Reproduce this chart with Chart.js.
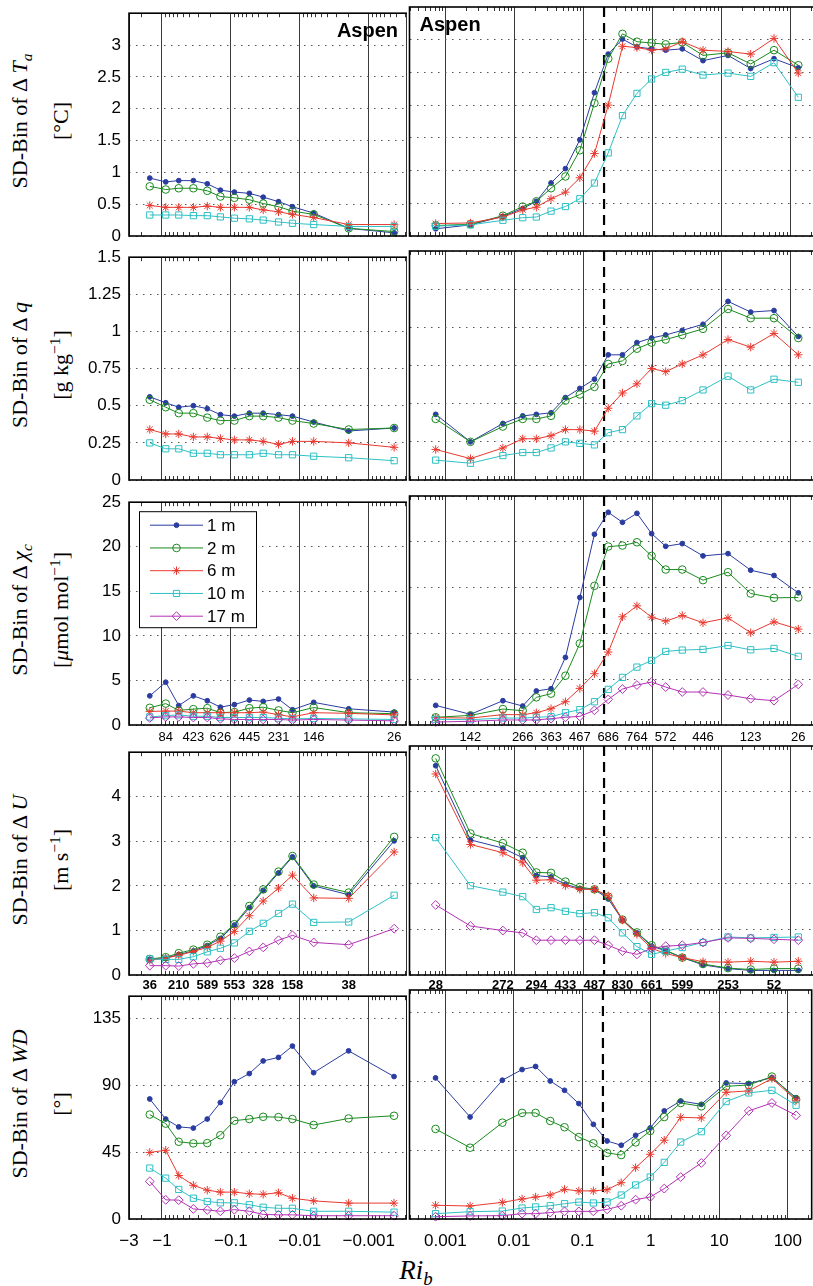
<!DOCTYPE html>
<html>
<head>
<meta charset="utf-8">
<script src="https://cdn.jsdelivr.net/npm/chart.js@4.4.0/dist/chart.umd.min.js"></script>
<style>
body { margin: 0; background: #fff; width: 813px; height: 1286px; overflow: hidden; position: relative; }
canvas { position: absolute; }
.yl { position: absolute; transform: translate(-50%, -50%) rotate(-90deg); white-space: nowrap;
      font-family: 'Liberation Serif', 'DejaVu Serif', serif; font-size: 22px; line-height: 1; color: #000; }
.yl sub, .yl sup { font-size: 70%; line-height: 0; }
#xl { position: absolute; left: 416px; top: 1270px; transform: translate(-50%, -50%);
      font-family: 'Liberation Serif', serif; font-size: 27px; line-height: 1; }
#xl sub { font-size: 70%; line-height: 0; }
</style>
</head>
<body>
<div class="yl" style="left:20px;top:121px">SD-Bin of Δ <i>T<sub>a</sub></i></div>
<div class="yl" style="left:61px;top:121px">[°C]</div>
<div class="yl" style="left:20px;top:365px">SD-Bin of Δ <i>q</i></div>
<div class="yl" style="left:61px;top:365px">[g kg<sup>−1</sup>]</div>
<div class="yl" style="left:20px;top:610px">SD-Bin of Δ <i>χ<sub>c</sub></i></div>
<div class="yl" style="left:61px;top:610px">[<i>μ</i>mol mol<sup>−1</sup>]</div>
<div class="yl" style="left:20px;top:860px">SD-Bin of Δ <i>U</i></div>
<div class="yl" style="left:61px;top:860px">[m s<sup>−1</sup>]</div>
<div class="yl" style="left:20px;top:1104px">SD-Bin of Δ <i>WD</i></div>
<div class="yl" style="left:61px;top:1104px">[°]</div>
<div id="xl"><i>Ri<sub>b</sub></i></div>
<script>
// bin centres (bulk Richardson number)
const riNeg = [-1.5, -0.88, -0.57, -0.35, -0.22, -0.142, -0.089, -0.054, -0.034, -0.0204, -0.0128, -0.0063, -0.00196, -0.00043];
const riPos = [0.00072, 0.0023, 0.0068, 0.0132, 0.0208, 0.034, 0.055, 0.089, 0.145, 0.23, 0.37, 0.6, 0.98, 1.57, 2.73, 5.46, 12.6, 26.9, 58.6, 132];

// samples per bin
const countsNeg = [36, 84, 210, 423, 589, 626, 553, 445, 328, 231, 158, 146, 38, 26];
const countsPos = [28, 142, 272, 266, 294, 363, 433, 467, 487, 686, 830, 764, 661, 572, 599, 446, 253, 123, 52, 26];

const heightLabels = ['1 m', '2 m', '6 m', '10 m', '17 m'];
const criticalRi = 0.2;

const xTicksNeg = [-3, -1, -0.1, -0.01, -0.001];
const xTicksPos = [0.001, 0.01, 0.1, 1, 10, 100];
const xRangeNeg = [-3, -0.00028];
const xRangePos = [0.0003, 223];

const yTicksTa = [0, 0.5, 1, 1.5, 2, 2.5, 3];
const yTicksQ = [0, 0.25, 0.5, 0.75, 1, 1.25, 1.5];
const yTicksC = [0, 5, 10, 15, 20, 25];
const yTicksU = [0, 1, 2, 3, 4];
const yTicksWD = [0, 45, 90, 135];

// SD-Bin of delta Ta [degC]
const ta1mNeg = [0.91, 0.85, 0.87, 0.87, 0.82, 0.72, 0.69, 0.67, 0.61, 0.54, 0.46, 0.36, 0.12, 0.05];
const ta2mNeg = [0.78, 0.73, 0.75, 0.75, 0.71, 0.62, 0.60, 0.57, 0.51, 0.46, 0.39, 0.34, 0.12, 0.07];
const ta6mNeg = [0.48, 0.45, 0.45, 0.45, 0.47, 0.45, 0.45, 0.45, 0.41, 0.38, 0.34, 0.29, 0.18, 0.18];
const ta10mNeg = [0.33, 0.33, 0.33, 0.32, 0.32, 0.30, 0.28, 0.27, 0.25, 0.22, 0.20, 0.18, 0.15, 0.15];
const ta1mPos = [0.11, 0.17, 0.30, 0.42, 0.53, 0.81, 1.03, 1.47, 2.19, 2.78, 3.01, 2.89, 2.86, 2.84, 2.86, 2.68, 2.76, 2.56, 2.71, 2.57];
const ta2mPos = [0.16, 0.18, 0.31, 0.45, 0.53, 0.73, 0.91, 1.31, 2.03, 2.71, 3.09, 2.97, 2.95, 2.93, 2.96, 2.76, 2.80, 2.63, 2.84, 2.61];
const ta6mPos = [0.19, 0.20, 0.29, 0.40, 0.44, 0.57, 0.67, 0.89, 1.26, 2.00, 2.90, 2.88, 2.84, 2.86, 2.97, 2.84, 2.82, 2.78, 3.02, 2.49];
const ta10mPos = [0.15, 0.17, 0.24, 0.28, 0.29, 0.38, 0.45, 0.57, 0.81, 1.27, 1.84, 2.18, 2.40, 2.50, 2.55, 2.46, 2.49, 2.44, 2.65, 2.12];

// SD-Bin of delta q [g/kg]
const q1mNeg = [0.56, 0.52, 0.49, 0.50, 0.48, 0.44, 0.43, 0.45, 0.45, 0.44, 0.43, 0.39, 0.33, 0.35];
const q2mNeg = [0.54, 0.49, 0.45, 0.45, 0.42, 0.40, 0.40, 0.43, 0.43, 0.42, 0.40, 0.38, 0.34, 0.35];
const q6mNeg = [0.34, 0.31, 0.31, 0.29, 0.29, 0.28, 0.27, 0.27, 0.26, 0.24, 0.26, 0.26, 0.25, 0.22];
const q10mNeg = [0.25, 0.21, 0.21, 0.18, 0.18, 0.17, 0.17, 0.17, 0.18, 0.17, 0.17, 0.16, 0.15, 0.13];
const q1mPos = [0.43, 0.25, 0.37, 0.42, 0.43, 0.44, 0.54, 0.60, 0.66, 0.82, 0.82, 0.90, 0.93, 0.95, 0.98, 1.02, 1.17, 1.10, 1.11, 0.94];
const q2mPos = [0.40, 0.25, 0.35, 0.40, 0.40, 0.42, 0.52, 0.56, 0.61, 0.76, 0.78, 0.86, 0.90, 0.92, 0.95, 0.99, 1.12, 1.06, 1.06, 0.93];
const q6mPos = [0.20, 0.14, 0.21, 0.27, 0.27, 0.29, 0.33, 0.33, 0.32, 0.47, 0.57, 0.63, 0.73, 0.71, 0.76, 0.82, 0.92, 0.87, 0.96, 0.82];
const q10mPos = [0.13, 0.11, 0.16, 0.18, 0.18, 0.21, 0.25, 0.24, 0.23, 0.31, 0.33, 0.42, 0.50, 0.49, 0.52, 0.59, 0.68, 0.59, 0.66, 0.64];

// SD-Bin of delta chi_c [umol/mol]
const c1mNeg = [3.27, 4.80, 2.18, 3.27, 2.72, 2.00, 2.29, 2.80, 2.65, 2.91, 1.71, 2.54, 1.82, 1.45];
const c2mNeg = [1.93, 2.40, 1.64, 1.78, 1.89, 1.38, 1.45, 1.89, 2.00, 1.64, 1.38, 1.96, 1.38, 1.27];
const c6mNeg = [1.53, 1.56, 1.56, 1.38, 1.38, 1.38, 1.38, 1.38, 1.45, 1.16, 0.91, 1.38, 1.31, 1.13];
const c10mNeg = [0.90, 1.05, 1.13, 0.98, 0.98, 0.84, 0.84, 0.84, 0.84, 0.76, 0.69, 0.73, 0.69, 0.62];
const c17mNeg = [0.80, 0.91, 0.91, 0.84, 0.84, 0.69, 0.62, 0.62, 0.62, 0.62, 0.55, 0.62, 0.55, 0.47];
const c1mPos = [2.14, 1.16, 2.65, 2.07, 3.71, 3.96, 7.38, 13.92, 20.82, 23.22, 22.13, 23.11, 20.89, 19.51, 19.80, 18.46, 18.71, 16.90, 16.32, 14.43];
const c2mPos = [0.84, 1.05, 1.74, 1.56, 3.02, 3.42, 5.38, 8.90, 15.19, 19.48, 19.59, 19.95, 18.46, 16.97, 16.97, 15.81, 16.68, 14.35, 13.88, 13.92];
const c6mPos = [0.80, 0.76, 1.13, 1.13, 1.34, 1.78, 2.54, 4.00, 5.60, 7.96, 11.81, 13.01, 11.77, 11.34, 11.96, 11.16, 11.70, 10.07, 11.26, 10.47];
const c10mPos = [0.62, 0.58, 0.76, 0.76, 0.84, 0.91, 1.34, 1.67, 2.54, 3.89, 5.20, 6.32, 7.05, 8.03, 8.18, 8.25, 8.68, 8.21, 8.36, 7.49];
const c17mPos = [0.33, 0.40, 0.55, 0.55, 0.55, 0.69, 0.84, 0.94, 1.60, 2.80, 3.92, 4.36, 4.69, 4.14, 3.60, 3.60, 3.27, 2.87, 2.65, 4.43];

// SD-Bin of delta U [m/s]
const u1mNeg = [0.35, 0.38, 0.46, 0.54, 0.66, 0.82, 1.12, 1.51, 1.90, 2.29, 2.65, 2.00, 1.80, 3.01];
const u2mNeg = [0.36, 0.40, 0.49, 0.57, 0.68, 0.86, 1.14, 1.55, 1.92, 2.32, 2.67, 2.03, 1.85, 3.10];
const u6mNeg = [0.33, 0.38, 0.44, 0.53, 0.62, 0.76, 0.98, 1.33, 1.66, 1.95, 2.24, 1.73, 1.72, 2.76];
const u10mNeg = [0.36, 0.35, 0.35, 0.41, 0.52, 0.60, 0.72, 0.98, 1.16, 1.38, 1.59, 1.18, 1.19, 1.79];
const u17mNeg = [0.21, 0.21, 0.20, 0.25, 0.27, 0.33, 0.38, 0.53, 0.62, 0.78, 0.89, 0.73, 0.68, 1.04];
const u1mPos = [4.57, 2.95, 2.77, 2.56, 2.17, 2.14, 1.98, 1.89, 1.87, 1.66, 1.20, 0.92, 0.63, 0.53, 0.38, 0.22, 0.14, 0.10, 0.10, 0.10];
const u2mPos = [4.73, 3.09, 2.88, 2.67, 2.24, 2.23, 2.04, 1.92, 1.87, 1.71, 1.21, 0.93, 0.65, 0.54, 0.38, 0.24, 0.15, 0.12, 0.14, 0.14];
const u6mPos = [4.39, 2.85, 2.67, 2.45, 2.07, 2.08, 1.95, 1.87, 1.87, 1.73, 1.20, 0.89, 0.58, 0.47, 0.38, 0.29, 0.28, 0.30, 0.28, 0.30];
const u10mPos = [3.00, 1.95, 1.81, 1.71, 1.43, 1.47, 1.39, 1.34, 1.36, 1.25, 0.92, 0.62, 0.45, 0.52, 0.60, 0.71, 0.83, 0.81, 0.82, 0.83];
const u17mPos = [1.53, 1.07, 0.97, 0.92, 0.76, 0.76, 0.76, 0.76, 0.76, 0.65, 0.52, 0.45, 0.58, 0.63, 0.65, 0.71, 0.81, 0.80, 0.78, 0.76];

// SD-Bin of delta WD [deg]
const wd1mNeg = [80.8, 67.3, 62.0, 61.2, 67.3, 78.4, 92.4, 97.9, 106.4, 108.8, 116.4, 98.5, 113.2, 95.9];
const wd2mNeg = [70.3, 64.2, 52.0, 50.9, 51.1, 56.4, 66.2, 67.3, 68.8, 68.6, 67.3, 63.3, 67.7, 69.5];
const wd6mNeg = [44.8, 46.3, 29.3, 22.7, 19.4, 18.1, 18.1, 17.0, 16.6, 17.7, 14.0, 12.2, 10.7, 10.7];
const wd10mNeg = [34.3, 27.5, 19.9, 14.0, 11.8, 10.9, 10.9, 9.6, 7.9, 7.2, 7.2, 5.2, 5.2, 4.6];
const wd17mNeg = [25.3, 12.9, 12.7, 6.8, 6.1, 5.2, 6.3, 5.2, 3.1, 2.8, 2.8, 2.2, 2.2, 2.2];
const wd1mPos = [92.4, 66.8, 90.9, 97.9, 99.9, 90.4, 84.3, 75.6, 62.0, 51.1, 48.3, 54.8, 59.6, 70.8, 77.3, 75.1, 89.1, 88.7, 92.6, 79.5];
const wd2mPos = [59.0, 46.7, 63.1, 69.5, 69.5, 64.2, 60.1, 53.7, 49.6, 43.3, 41.9, 50.2, 57.7, 66.8, 76.0, 73.8, 86.9, 87.8, 93.3, 78.4];
const wd6mPos = [9.0, 8.5, 10.9, 13.1, 14.4, 15.7, 19.4, 18.4, 18.4, 19.2, 23.8, 33.6, 42.4, 51.6, 66.6, 66.2, 83.0, 83.9, 92.0, 77.8];
const wd10mPos = [3.5, 4.8, 5.2, 7.2, 7.9, 8.7, 10.0, 11.1, 10.5, 11.1, 15.7, 22.3, 27.5, 37.1, 50.4, 57.2, 76.9, 82.6, 84.3, 74.5];
const wd17mPos = [1.5, 2.0, 2.2, 3.5, 3.5, 4.2, 5.0, 5.0, 5.0, 6.3, 8.7, 12.7, 14.4, 19.9, 27.5, 36.7, 54.8, 70.8, 76.0, 67.9];

const rows = [
  { yMax: 3.5, yTicks: yTicksTa, neg: [ta1mNeg, ta2mNeg, ta6mNeg, ta10mNeg], pos: [ta1mPos, ta2mPos, ta6mPos, ta10mPos] },
  { yMax: 1.5, yTicks: yTicksQ, neg: [q1mNeg, q2mNeg, q6mNeg, q10mNeg], pos: [q1mPos, q2mPos, q6mPos, q10mPos] },
  { yMax: 25, yTicks: yTicksC, neg: [c1mNeg, c2mNeg, c6mNeg, c10mNeg, c17mNeg], pos: [c1mPos, c2mPos, c6mPos, c10mPos, c17mPos] },
  { yMax: 5, yTicks: yTicksU, neg: [u1mNeg, u2mNeg, u6mNeg, u10mNeg, u17mNeg], pos: [u1mPos, u2mPos, u6mPos, u10mPos, u17mPos] },
  { yMax: 150, yTicks: yTicksWD, neg: [wd1mNeg, wd2mNeg, wd6mNeg, wd10mNeg, wd17mNeg], pos: [wd1mPos, wd2mPos, wd6mPos, wd10mPos, wd17mPos] }
];

// marker styles, same order as heightLabels
const styles = [
  { color: '#2b3ca0', pointStyle: 'circle', radius: 2.4, fill: true },
  { color: '#1a8a1e', pointStyle: 'circle', radius: 3.8, fill: false },
  { color: '#e8392f', pointStyle: 'star', radius: 4.2, fill: false },
  { color: '#2ec0c4', pointStyle: 'rect', radius: 4.4, fill: false },
  { color: '#b232b4', pointStyle: 'rectRot', radius: 4.4, fill: false }
];

const SANS = "'Liberation Sans', Arial, Helvetica, sans-serif";
const PLOT_H = 229;
const PAD_TOP = 12;
const rowTops = [7, 251, 496, 746, 990];

function drawMarker(ctx, s, x, y) {
  ctx.save();
  ctx.strokeStyle = s.color;
  ctx.fillStyle = s.fill ? s.color : 'rgba(0,0,0,0)';
  ctx.lineWidth = 1;
  Chart.helpers.drawPoint(ctx, { pointStyle: s.pointStyle, radius: s.radius, rotation: 0, borderWidth: 1 }, x, y);
  ctx.restore();
}

const panelDecor = {
  id: 'panelDecor',
  beforeDatasetsDraw(chart, args, o) {
    const { ctx, chartArea: a } = chart;
    const x = chart.scales.x;
    ctx.save();
    // minor ticks on log axis, pointing inward
    ctx.strokeStyle = '#000';
    ctx.lineWidth = 0.8;
    for (let e = -4; e <= 2; e++) {
      for (let k = 2; k <= 9; k++) {
        const v = k * Math.pow(10, e);
        if (v <= x.min || v >= x.max) continue;
        const px = Math.round(x.getPixelForValue(v)) + 0.5;
        ctx.beginPath();
        ctx.moveTo(px, a.bottom); ctx.lineTo(px, a.bottom - 4);
        ctx.moveTo(px, a.top); ctx.lineTo(px, a.top + 4);
        ctx.stroke();
      }
    }
    if (!o.neg) {
      const px = x.getPixelForValue(criticalRi);
      ctx.setLineDash([10, 6]);
      ctx.lineWidth = 2.2;
      ctx.beginPath();
      ctx.moveTo(px, a.top); ctx.lineTo(px, a.bottom);
      ctx.stroke();
    }
    ctx.restore();
  },
  afterDraw(chart, args, o) {
    const { ctx, chartArea: a } = chart;
    const x = chart.scales.x;
    ctx.save();
    ctx.strokeStyle = '#000';
    ctx.lineWidth = 1.6;
    ctx.strokeRect(a.left, a.top, a.right - a.left, a.bottom - a.top);

    // sample counts under the chi_c and U panels, alternating bins
    if (o.row === 2 || o.row === 3) {
      const counts = o.neg ? countsNeg : countsPos;
      const ri = o.neg ? riNeg : riPos;
      ctx.fillStyle = '#000';
      ctx.textAlign = 'center';
      ctx.textBaseline = 'middle';
      ctx.font = (o.row === 3 ? 'bold ' : '') + '13px ' + SANS;
      counts.forEach((n, i) => {
        if ((o.row === 2) !== (i % 2 === 1)) return;
        ctx.fillText(String(n), x.getPixelForValue(Math.abs(ri[i])), a.bottom + (o.row === 2 ? 12 : 10));
      });
    }

    if (o.row === 0) {
      ctx.fillStyle = '#000';
      ctx.font = 'bold 20px ' + SANS;
      ctx.textBaseline = 'alphabetic';
      if (o.neg) { ctx.textAlign = 'right'; ctx.fillText('Aspen', a.right - 9, a.top + 24); }
      else { ctx.textAlign = 'left'; ctx.fillText('Aspen', a.left + 10, a.top + 24); }
    }

    if (o.row === 2 && o.neg) {
      const bx = a.left + 10, by = a.top + 9;
      ctx.fillStyle = '#fff';
      ctx.fillRect(bx, by, 117, 116);
      ctx.lineWidth = 1;
      ctx.strokeStyle = '#000';
      ctx.strokeRect(bx + 0.5, by + 0.5, 117, 116);
      ctx.font = '17px ' + SANS;
      ctx.textAlign = 'left';
      ctx.textBaseline = 'middle';
      styles.forEach((s, i) => {
        const ly = a.top + 23 + i * 22.75;
        ctx.strokeStyle = s.color;
        ctx.lineWidth = 1;
        ctx.beginPath();
        ctx.moveTo(a.left + 21, ly); ctx.lineTo(a.left + 74, ly);
        ctx.stroke();
        drawMarker(ctx, s, a.left + 47.5, ly);
        ctx.fillStyle = '#000';
        ctx.fillText(heightLabels[i], a.left + 78, ly + 1);
      });
    }
    ctx.restore();
  }
};

function makePanel(r, neg) {
  const row = rows[r];
  const last = r === rows.length - 1;
  const xh = last ? 40 : 0;
  const padBottom = last ? 0 : 24;
  const left = neg ? 0 : 408;
  const width = neg ? 407 : 406;
  const yw = neg ? 129 : 1.5;

  const canvas = document.createElement('canvas');
  canvas.width = width;
  canvas.height = PAD_TOP + PLOT_H + xh + padBottom;
  canvas.style.left = left + 'px';
  canvas.style.top = (rowTops[r] - PAD_TOP) + 'px';
  document.body.appendChild(canvas);

  const ri = neg ? riNeg : riPos;
  const series = neg ? row.neg : row.pos;
  const datasets = series.map((vals, i) => ({
    label: heightLabels[i],
    data: vals.map((y, j) => ({ x: Math.abs(ri[j]), y: y })),
    borderColor: styles[i].color,
    backgroundColor: styles[i].fill ? styles[i].color : 'rgba(0,0,0,0)',
    pointBorderColor: styles[i].color,
    pointBackgroundColor: styles[i].fill ? styles[i].color : 'rgba(0,0,0,0)',
    pointStyle: styles[i].pointStyle,
    pointRadius: styles[i].radius,
    pointBorderWidth: 1,
    borderWidth: 1,
    tension: 0,
    fill: false,
    clip: false,
    order: 5 - i
  }));

  const xTicks = (neg ? xTicksNeg : xTicksPos).map(v => Math.abs(v));
  const xRange = (neg ? xRangeNeg : xRangePos).map(v => Math.abs(v));

  new Chart(canvas, {
    type: 'line',
    data: { datasets },
    options: {
      responsive: false,
      animation: false,
      events: [],
      layout: { autoPadding: false, padding: { top: PAD_TOP, bottom: padBottom, left: 0, right: 0 } },
      plugins: { legend: { display: false }, tooltip: { enabled: false }, panelDecor: { neg: neg, row: r } },
      scales: {
        x: {
          type: 'logarithmic',
          min: Math.min(...xRange),
          max: Math.max(...xRange),
          reverse: neg,
          afterBuildTicks: s => { s.ticks = xTicks.map(v => ({ value: v })); },
          afterFit: s => { s.height = xh; },
          grid: { color: '#3a3a3a', lineWidth: 1, drawTicks: false },
          border: { display: false },
          ticks: {
            display: last,
            padding: 12,
            autoSkip: false,
            maxRotation: 0,
            color: '#000',
            font: { family: SANS, size: 17 },
            callback: v => (neg ? '\u2212' : '') + v
          }
        },
        y: {
          type: 'linear',
          min: 0,
          max: row.yMax,
          afterBuildTicks: s => { s.ticks = row.yTicks.map(v => ({ value: v })); },
          afterFit: s => { s.width = yw; },
          grid: { color: '#555', lineWidth: 1, drawTicks: false },
          border: { display: false, dash: [1.5, 5.5] },
          ticks: {
            display: neg,
            padding: 8,
            color: '#000',
            font: { family: SANS, size: 17 },
            callback: v => String(v)
          }
        }
      }
    },
    plugins: [panelDecor]
  });
}

for (let r = 0; r < rows.length; r++) {
  makePanel(r, true);
  makePanel(r, false);
}
</script>
</body>
</html>
